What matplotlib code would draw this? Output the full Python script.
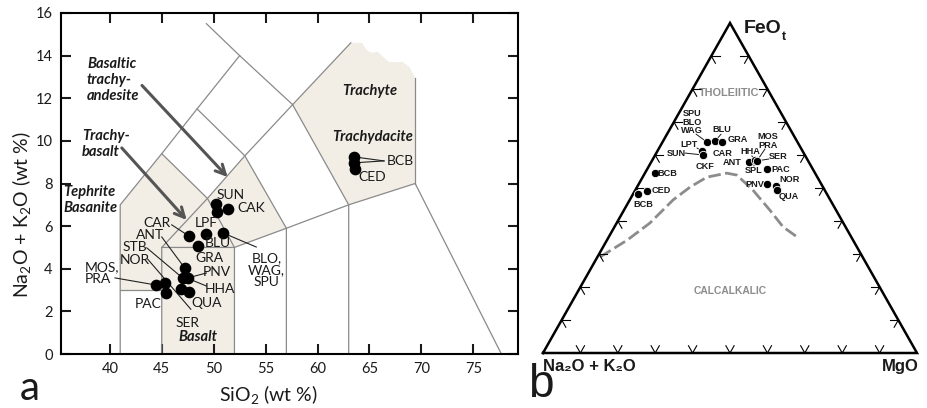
import numpy as np
import matplotlib.pyplot as plt

plt.rcParams['font.family'] = ['Lato', 'DejaVu Sans']
plt.rcParams['mathtext.fontset'] = 'custom'
plt.rcParams['mathtext.rm'] = 'Lato'
plt.rcParams['mathtext.it'] = 'Lato:italic'
plt.rcParams['mathtext.bf'] = 'Lato:bold'

# ---------------- panel a : TAS diagram ----------------
# samples (SiO2 wt %, Na2O+K2O wt %)
tas_sio2 = [50.2, 50.3, 51.35, 47.6, 49.3, 50.9, 48.5, 47.2, 47.0, 47.5,
            44.4, 45.3, 45.4, 46.9, 47.6, 63.5, 63.5, 63.6]
tas_alk = [7.04, 6.67, 6.81, 5.54, 5.63, 5.68, 5.07, 4.04, 3.57, 3.57,
           3.24, 3.33, 2.86, 3.05, 2.91, 9.25, 8.97, 8.66]

# field boundaries (Le Bas et al.)
tas_lines = [
    [(41, 0), (41, 7), (45, 9.4), (48.4, 11.5), (52.5, 14)],
    [(49.3, 15.5), (52.5, 14), (57.6, 11.7), (63.2, 14.6)],
    [(41, 3), (45, 3)],
    [(45, 0), (45, 5), (49.4, 7.3), (53, 9.3), (57.6, 11.7)],
    [(45, 9.4), (49.4, 7.3), (52, 5), (52, 0)],
    [(45, 5), (52, 5), (57, 5.9), (63, 7), (69.4, 8), (77.7, 0)],
    [(48.4, 11.5), (53, 9.3), (57, 5.9), (57, 0)],
    [(57.6, 11.7), (63, 7), (63, 0)],
    [(69.4, 8), (69.4, 12.96)],
]
shade_basic = [(41, 3), (41, 7), (45, 9.4), (49.4, 7.3), (53, 9.3), (57, 5.9),
               (52, 5), (52, 0), (45, 0), (45, 3)]
shade_trachyte = [(57.6, 11.7), (63.27, 14.6), (64.3, 14.6), (64.7, 14.27),
                  (65.2, 14.13), (65.8, 14.18), (66.4, 13.9), (66.9, 13.7),
                  (68.2, 13.7), (68.85, 13.47), (69.4, 12.96), (69.4, 8), (63, 7)]

# ---------------- panel b : AFM diagram (percent) ----------------
afm_names = ['SPU', 'BLU', 'GRA', 'LPT', 'CKF', 'ANT', 'HHA', 'SER', 'PAC',
             'PNV', 'NOR', 'QUA', 'BCB', 'CED', 'BCB2']
afm_F = [63.9, 64.2, 63.9, 61.2, 60.0, 57.9, 58.5, 58.2, 55.8, 51.2, 50.6, 49.4, 54.5, 49.1, 48.2]
afm_M = [11.9, 13.9, 15.9, 11.9, 12.8, 26.1, 27.4, 28.1, 32.0, 34.3, 37.0, 37.9, 2.7, 3.3, 1.3]
afm_A = [24.2, 21.9, 20.2, 26.9, 27.2, 16.0, 14.1, 13.7, 12.2, 14.5, 12.4, 12.7, 42.8, 47.6, 50.5]

# Irvine & Baragar tholeiitic / calc-alkaline boundary
curve_F = [29.1, 34.2, 39.4, 46.4, 50.3, 53.3, 54.5, 53.9, 49.4, 43.3, 38.2, 35.2]
curve_M = [0.7, 5.4, 8.9, 11.6, 14.2, 17.2, 21.9, 24.9, 31.4, 39.0, 45.1, 50.3]

SHADE = '#f2eee6'
LINEC = '#8a8a8a'

fig = plt.figure(figsize=(9.27, 4.08), dpi=100)

# ======== panel a ========
ax = fig.add_axes([61 / 927, 1 - 354 / 408, 457 / 927, 341 / 408])
ax.set_xlim(35.3, 79.3)
ax.set_ylim(0, 16)

for poly in (shade_basic, shade_trachyte):
    ax.add_patch(plt.Polygon(poly, closed=True, facecolor=SHADE, edgecolor='none', zorder=1))
for seg in tas_lines:
    xs, ys = zip(*seg)
    ax.plot(xs, ys, color=LINEC, lw=0.9, zorder=2)

# leader lines: (start x, start y, end x, end y) ends taken from the points
leaders = [
    (45.96, 6.06, tas_sio2[3], tas_alk[3]),
    (45.0, 5.49, tas_sio2[7], tas_alk[7]),
    (43.56, 4.98, tas_sio2[8], tas_alk[8]),
    (43.65, 4.45, 47.8, 2.1),
    (40.5, 3.57, tas_sio2[10], tas_alk[10]),
    (49.3, 3.80, tas_sio2[9], tas_alk[9]),
    (49.3, 3.19, 47.9, 3.47),
    (54.1, 5.02, tas_sio2[5], tas_alk[5]),
    (66.4, 9.06, tas_sio2[15], tas_alk[15]),
    (66.4, 9.06, tas_sio2[16], tas_alk[16]),
]
for x0, y0, x1, y1 in leaders:
    ax.plot([x0, x1], [y0, y1], color='#222222', lw=0.8, zorder=3)

ax.plot(tas_sio2, tas_alk, 'o', color='black', ms=7.4, zorder=4)

lab_a = [
    ('SUN', 51.6, 7.46, 'center'), ('CAK', 53.65, 6.85, 'center'),
    ('CAR', 44.5, 6.15, 'center'), ('LPF', 49.3, 6.15, 'center'),
    ('BLU', 50.4, 5.2, 'center'), ('GRA', 49.6, 4.5, 'center'),
    ('ANT', 43.85, 5.6, 'center'), ('STB', 42.4, 5.02, 'center'),
    ('NOR', 42.4, 4.41, 'center'), ('PAC', 43.65, 2.35, 'center'),
    ('PNV', 50.3, 3.85, 'center'), ('HHA', 50.6, 3.05, 'center'),
    ('QUA', 49.3, 2.39, 'center'), ('SER', 47.5, 1.46, 'center'),
    ('CED', 65.3, 8.3, 'center'), ('BCB', 66.7, 9.06, 'left'),
    ('BLO,\nWAG,\nSPU', 55.1, 3.94, 'center'), ('MOS,\nPRA', 37.55, 3.8, 'left'),
]
for t, x, y, ha in lab_a:
    ax.text(x, y, t, fontsize=10, ha=ha, va='center', color='#1a1a1a',
            linespacing=0.95, zorder=5)

rock = dict(fontsize=10.5, fontweight='bold', fontstyle='italic', color='#1a1a1a',
            linespacing=1.2, zorder=5)
ax.text(37.8, 12.86, 'Basaltic\ntrachy-\nandesite', ha='left', va='center', **rock)
ax.text(37.3, 9.86, 'Trachy-\nbasalt', ha='left', va='center', **rock)
ax.text(35.5, 7.23, 'Tephrite\nBasanite', ha='left', va='center', **rock)
ax.text(65.0, 12.35, 'Trachyte', ha='center', va='center', **rock)
ax.text(65.3, 10.2, 'Trachydacite', ha='center', va='center', **rock)
ax.text(48.5, 0.8, 'Basalt', ha='center', va='center', **rock)

arrow = dict(arrowstyle='->,head_length=0.7,head_width=0.35', color='#555555', lw=2.2,
             shrinkA=0, shrinkB=0)
ax.annotate('', xy=(47.4, 6.29), xytext=(41.15, 9.67), arrowprops=arrow, zorder=3)
ax.annotate('', xy=(51.35, 8.3), xytext=(43.1, 12.6), arrowprops=arrow, zorder=3)

ax.set_xticks(range(40, 80, 5))
ax.set_yticks(range(0, 17, 2))
ax.tick_params(direction='in', top=True, right=True, length=7, width=1.5,
               labelsize=10.5, pad=6, colors='#1a1a1a')
for sp in ax.spines.values():
    sp.set_linewidth(1.5)
ax.set_xlabel('SiO$_2$ (wt %)', fontsize=14, color='#1a1a1a')
ax.set_ylabel('Na$_2$O + K$_2$O (wt %)', fontsize=14, color='#1a1a1a')
ax.xaxis.set_label_coords(0.453, -0.085)
ax.yaxis.set_label_coords(-0.062, 0.41)

fig.text(20 / 927, 8 / 408, 'a', fontsize=29, ha='left', va='baseline', color='#1a1a1a')

# ======== panel b ========
H = 330 / 374.0


def tern(F, M):
    F = np.asarray(F) / 100.0
    M = np.asarray(M) / 100.0
    return M + 0.5 * F, H * F


bx = fig.add_axes([522 / 927, 0, 405 / 927, 1])
bx.set_xlim(-21 / 374, 384 / 374)
bx.set_ylim(-55 / 374, 353 / 374)
bx.axis('off')

tri_x, tri_y = tern([0, 0, 100, 0], [0, 100, 0, 0])
bx.plot(tri_x, tri_y, color='black', lw=1.8, solid_joinstyle='miter', zorder=3)

d = 2.2
for i in range(1, 10):
    t = i * 10.0
    for (F0, M0), arms in (
            ((0, t), [(d, t), (d, t - d)]),
            ((t, 0), [(t, d), (t - d, d)]),
            ((t, 100 - t), [(t, 100 - t - d), (t - d, 100 - t)])):
        for F1, M1 in arms:
            xs, ys = tern([F0, F1], [M0, M1])
            bx.plot(xs, ys, color='black', lw=0.8, zorder=3)

cx, cy = tern(curve_F, curve_M)
bx.plot(cx, cy, color='#8c8c8c', lw=2.0, dashes=(4.5, 1.6), zorder=2)

px, py = tern(afm_F, afm_M)
bx.plot(px, py, 'o', color='black', ms=6.0, mec='white', mew=0.6, zorder=5)

BF = ['Liberation Sans', 'DejaVu Sans']
# (text, point index, dx pt, dy pt)
lab_b = [
    ('SPU\nBLO\nWAG', 0, -10.8, 14.4), ('BLU', 1, 5.0, 8.6), ('GRA', 2, 11.5, 2.2),
    ('LPT', 3, -9.0, 5.0), ('SUN', 4, -19.5, 1.4), ('CAR', 4, 14.2, 1.4),
    ('CKF', 4, 1.4, -8.6), ('MOS\nPRA', 7, 7.9, 14.4), ('HHA', 6, -3.6, 6.2),
    ('SER', 7, 15.0, 2.9), ('ANT', 5, -12.0, -0.7), ('SPL', 6, -0.7, -7.9),
    ('PAC', 8, 9.9, -0.7), ('PNV', 9, -9.0, 0.0), ('NOR', 10, 9.9, 5.0),
    ('QUA', 11, 8.3, -5.0), ('BCB', 12, 9.0, 0.0), ('CED', 13, 10.5, 0.0),
    ('BCB', 14, 3.6, -7.9),
]
for t, k, dx, dy in lab_b:
    bx.annotate(t, (px[k], py[k]), xytext=(dx, dy), textcoords='offset points',
                fontsize=6.6, fontweight='bold', family=BF, ha='center', va='center',
                color='#1a1a1a', linespacing=0.9, zorder=6)

# short leaders in panel b: (point index, start dx, start dy, end dx, end dy) in points
lead_b = [(0, -7.9, 5.8, -0.7, 0.7), (1, 4.3, 5.0, 0.7, 0.7), (3, -3.6, 2.2, -0.7, 0.7),
          (4, -13.0, 1.4, -2.9, 0.7), (7, 5.8, 8.6, 0.7, 2.2), (6, -2.2, 3.0, -1.0, 1.5),
          (7, 8.6, 1.4, 2.2, 0.0), (6, -0.7, -4.3, 0.0, -2.2)]
for k, sx, sy, ex, ey in lead_b:
    bx.annotate('', (px[k], py[k]), xytext=(sx, sy), textcoords='offset points',
                arrowprops=dict(arrowstyle='-', color='#1a1a1a', lw=0.7,
                                shrinkA=0, shrinkB=0, relpos=(0.5, 0.5)),
                zorder=4)

bx.text(*tern(78.8, 10.3), 'THOLEIITIC', fontsize=7.8, fontweight='bold', family=BF,
        color='#8c8c8c', ha='center', va='center')
bx.text(*tern(18.8, 40.6), 'CALCALKALIC', fontsize=7.4, fontweight='bold', family=BF,
        color='#8c8c8c', ha='center', va='center')

ax_apex = tern(100, 0)
bx.annotate('FeO', ax_apex, xytext=(10, -4), textcoords='offset points', fontsize=14,
            fontweight='bold', family=BF, ha='left', va='center', color='#1a1a1a')
bx.annotate('t', ax_apex, xytext=(37.5, -10), textcoords='offset points', fontsize=9,
            fontweight='bold', family=BF, ha='left', va='center', color='#1a1a1a')
bx.annotate('Na\u2082O + K\u2082O', tern(0, 0), xytext=(0, -10), textcoords='offset points',
            fontsize=12, fontweight='bold', family=BF, ha='left', va='center',
            color='#1a1a1a')
bx.annotate('MgO', tern(0, 100), xytext=(1, -10), textcoords='offset points',
            fontsize=12, fontweight='bold', family=BF, ha='right', va='center',
            color='#1a1a1a')

bx.annotate('b', tern(0, 0), xytext=(-11, -32), textcoords='offset points', fontsize=33,
            family=BF, ha='left', va='baseline', color='#1a1a1a', annotation_clip=False)

fig.savefig('out.png', dpi=100)
